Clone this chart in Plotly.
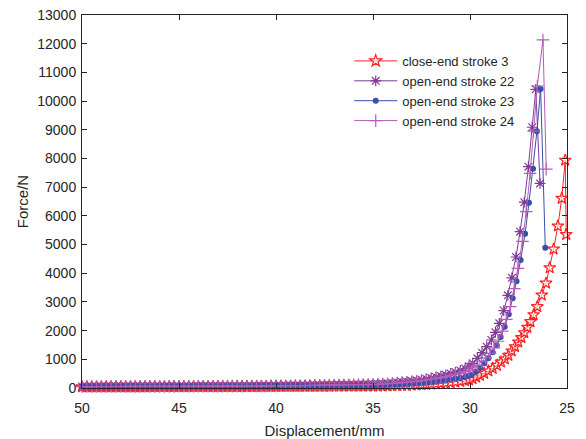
import plotly.graph_objects as go

# Shared displacement grid for the low-force region (mm)
disp_flat = [50.0, 49.75, 49.5, 49.25, 49.0, 48.75, 48.5, 48.25, 48.0, 47.75,
             47.5, 47.25, 47.0, 46.75, 46.5, 46.25, 46.0, 45.75, 45.5, 45.25,
             45.0, 44.75, 44.5, 44.25, 44.0, 43.75, 43.5, 43.25, 43.0, 42.75,
             42.5, 42.25, 42.0, 41.75, 41.5, 41.25, 41.0, 40.75, 40.5, 40.25,
             40.0, 39.75, 39.5, 39.25, 39.0, 38.75, 38.5, 38.25, 38.0, 37.75,
             37.5, 37.25, 37.0, 36.75, 36.5, 36.25, 36.0, 35.75, 35.5, 35.25,
             35.0, 34.75, 34.5, 34.25, 34.0, 33.75, 33.5, 33.25, 33.0, 32.75,
             32.5, 32.25, 32.0, 31.75, 31.5, 31.25, 31.0, 30.75, 30.5, 30.25]

# close-end stroke 3
red_flat = [38, 38, 39, 39, 39, 40, 40, 40, 41, 41,
            41, 42, 42, 42, 43, 43, 43, 44, 44, 44,
            45, 45, 45, 46, 46, 46, 47, 47, 47, 48,
            48, 48, 49, 49, 50, 50, 51, 51, 52, 52,
            53, 53, 54, 54, 55, 55, 56, 57, 57, 58,
            58, 59, 60, 60, 61, 62, 62, 63, 64, 64,
            65, 68, 71, 75, 80, 84, 89, 94, 100, 107,
            115, 125, 135, 147, 160, 174, 190, 208, 230, 255]
red_rise_x = [30.05, 29.87, 29.68, 29.48, 29.27, 29.05, 28.83, 28.61, 28.4, 28.2,
              28.02, 27.85, 27.68, 27.51, 27.35, 27.2, 27.04, 26.88, 26.72, 26.53,
              26.3, 26.08, 25.89, 25.69, 25.47, 25.27, 25.09, 25.04]
red_rise_y = [285, 328, 378, 443, 512, 593, 687, 791, 906, 1011,
              1140, 1290, 1440, 1603, 1754, 1928, 2115, 2312, 2550, 2835,
              3240, 3655, 4190, 4840, 5646, 6612, 7940, 5350]

# open-end stroke 22
s22_flat = [55, 55, 56, 56, 57, 57, 57, 58, 58, 59,
            59, 60, 60, 60, 61, 61, 62, 62, 63, 63,
            64, 64, 65, 65, 66, 66, 67, 68, 68, 69,
            70, 70, 71, 72, 73, 74, 75, 76, 77, 78,
            80, 81, 83, 85, 87, 89, 91, 93, 96, 99,
            102, 105, 108, 111, 114, 117, 120, 123, 126, 128,
            130, 140, 150, 162, 175, 190, 205, 220, 240, 265,
            290, 318, 350, 384, 420, 460, 505, 556, 610, 680]
s22_rise_x = [30.05, 29.86, 29.62, 29.38, 29.14, 28.9, 28.69, 28.49, 28.26, 28.05,
              27.84, 27.63, 27.42, 27.2, 26.99, 26.79, 26.61, 26.39]
s22_rise_y = [760, 861, 1035, 1230, 1440, 1673, 1941, 2254, 2700, 3230,
              3840, 4566, 5448, 6477, 7713, 9087, 10411, 7130]

# open-end stroke 23
s23_flat = [45, 45, 46, 46, 46, 47, 47, 47, 48, 48,
            48, 49, 49, 49, 50, 50, 50, 51, 51, 51,
            52, 52, 52, 53, 53, 53, 54, 54, 55, 55,
            56, 56, 57, 57, 58, 58, 59, 60, 60, 61,
            62, 63, 64, 65, 66, 67, 68, 69, 70, 71,
            72, 73, 74, 76, 77, 78, 80, 81, 82, 84,
            85, 90, 96, 102, 110, 117, 125, 134, 145, 157,
            170, 185, 200, 219, 240, 264, 290, 319, 350, 385]
s23_rise_x = [30.1, 29.93, 29.71, 29.48, 29.26, 29.05, 28.83, 28.62, 28.42, 28.21,
              28.0, 27.8, 27.6, 27.39, 27.16, 26.96, 26.75, 26.55, 26.36, 26.12]
s23_rise_y = [415, 455, 568, 708, 861, 1035, 1244, 1488, 1777, 2137,
              2568, 3126, 3718, 4462, 5380, 6455, 7640, 8946, 10422, 4891]

# open-end stroke 24
s24_flat = [50, 50, 51, 51, 52, 52, 52, 53, 53, 54,
            54, 55, 55, 55, 56, 56, 57, 57, 58, 58,
            59, 59, 60, 60, 61, 61, 62, 63, 63, 64,
            65, 65, 66, 67, 68, 69, 70, 71, 72, 73,
            75, 76, 78, 80, 82, 84, 86, 88, 91, 94,
            97, 100, 103, 106, 109, 112, 114, 116, 118, 119,
            120, 128, 138, 148, 160, 172, 186, 200, 215, 234,
            255, 278, 305, 333, 365, 398, 435, 475, 520, 570]
s24_rise_x = [30.05, 29.85, 29.63, 29.41, 29.19, 28.97, 28.76, 28.55, 28.34, 28.13,
              27.92, 27.72, 27.53, 27.3, 27.1, 26.9, 26.72, 26.53, 26.24, 26.07]
s24_rise_y = [625, 700, 800, 915, 1050, 1210, 1400, 1630, 1980, 2394,
              2834, 3461, 4172, 5110, 6150, 7483, 8950, 10526, 12130, 7630]

x_ticks = [50, 45, 40, 35, 30, 25]
y_ticks = [0, 1000, 2000, 3000, 4000, 5000, 6000, 7000, 8000, 9000, 10000, 11000, 12000, 13000]

FONT = "Liberation Sans, Arial, sans-serif"
AX = "#262626"

fig = go.Figure()

fig.add_trace(go.Scatter(
    x=disp_flat + red_rise_x, y=red_flat + red_rise_y, name="close-end stroke 3",
    mode="lines+markers", cliponaxis=False,
    line=dict(color="#ff2020", width=1),
    marker=dict(symbol="star", size=9, color="rgba(255,255,255,0.6)",
                line=dict(color="#ff2020", width=1.2))))
fig.add_trace(go.Scatter(
    x=disp_flat + s22_rise_x, y=s22_flat + s22_rise_y, name="open-end stroke 22",
    mode="lines+markers", cliponaxis=False,
    line=dict(color="#7e3a95", width=1),
    marker=dict(symbol="asterisk-open", size=9,
                line=dict(color="#7e3a95", width=1.2))))
fig.add_trace(go.Scatter(
    x=disp_flat + s23_rise_x, y=s23_flat + s23_rise_y, name="open-end stroke 23",
    mode="lines+markers", cliponaxis=False,
    line=dict(color="#3a4fa8", width=1),
    marker=dict(symbol="circle", size=6, color="#3a4fa8")))
fig.add_trace(go.Scatter(
    x=disp_flat + s24_rise_x, y=s24_flat + s24_rise_y, name="open-end stroke 24",
    mode="lines+markers", cliponaxis=False,
    line=dict(color="#b45cb8", width=1),
    marker=dict(symbol="cross-thin-open", size=9,
                line=dict(color="#b45cb8", width=1.2))))

axis_common = dict(
    showline=True, linecolor=AX, linewidth=1, mirror="ticks",
    ticks="inside", ticklen=5, tickcolor=AX, tickwidth=1,
    showgrid=False, zeroline=False, automargin=False,
    tickfont=dict(family=FONT, size=14, color=AX),
)

fig.update_xaxes(range=[50, 25], tickvals=x_ticks, ticktext=[str(v) for v in x_ticks],
                 ticklabelstandoff=7,
                 title=dict(text="Displacement/mm", font=dict(family=FONT, size=15, color=AX),
                            standoff=11),
                 **axis_common)
fig.update_yaxes(range=[0, 13000], tickvals=y_ticks, ticktext=[str(v) for v in y_ticks],
                 ticklabelstandoff=2,
                 title=dict(text="Force/N", font=dict(family=FONT, size=15, color=AX),
                            standoff=5),
                 **axis_common)

fig.update_layout(
    width=586, height=439,
    margin=dict(l=82, r=19, t=15, b=51, autoexpand=False),
    paper_bgcolor="white", plot_bgcolor="white",
    font=dict(family=FONT, color=AX),
    legend=dict(x=0.551, y=0.917, xanchor="left", yanchor="top",
                bgcolor="rgba(255,255,255,0)", borderwidth=0, itemwidth=43,
                font=dict(family=FONT, size=13, color=AX), tracegroupgap=0),
    showlegend=True,
)

fig.write_html("out.html")
